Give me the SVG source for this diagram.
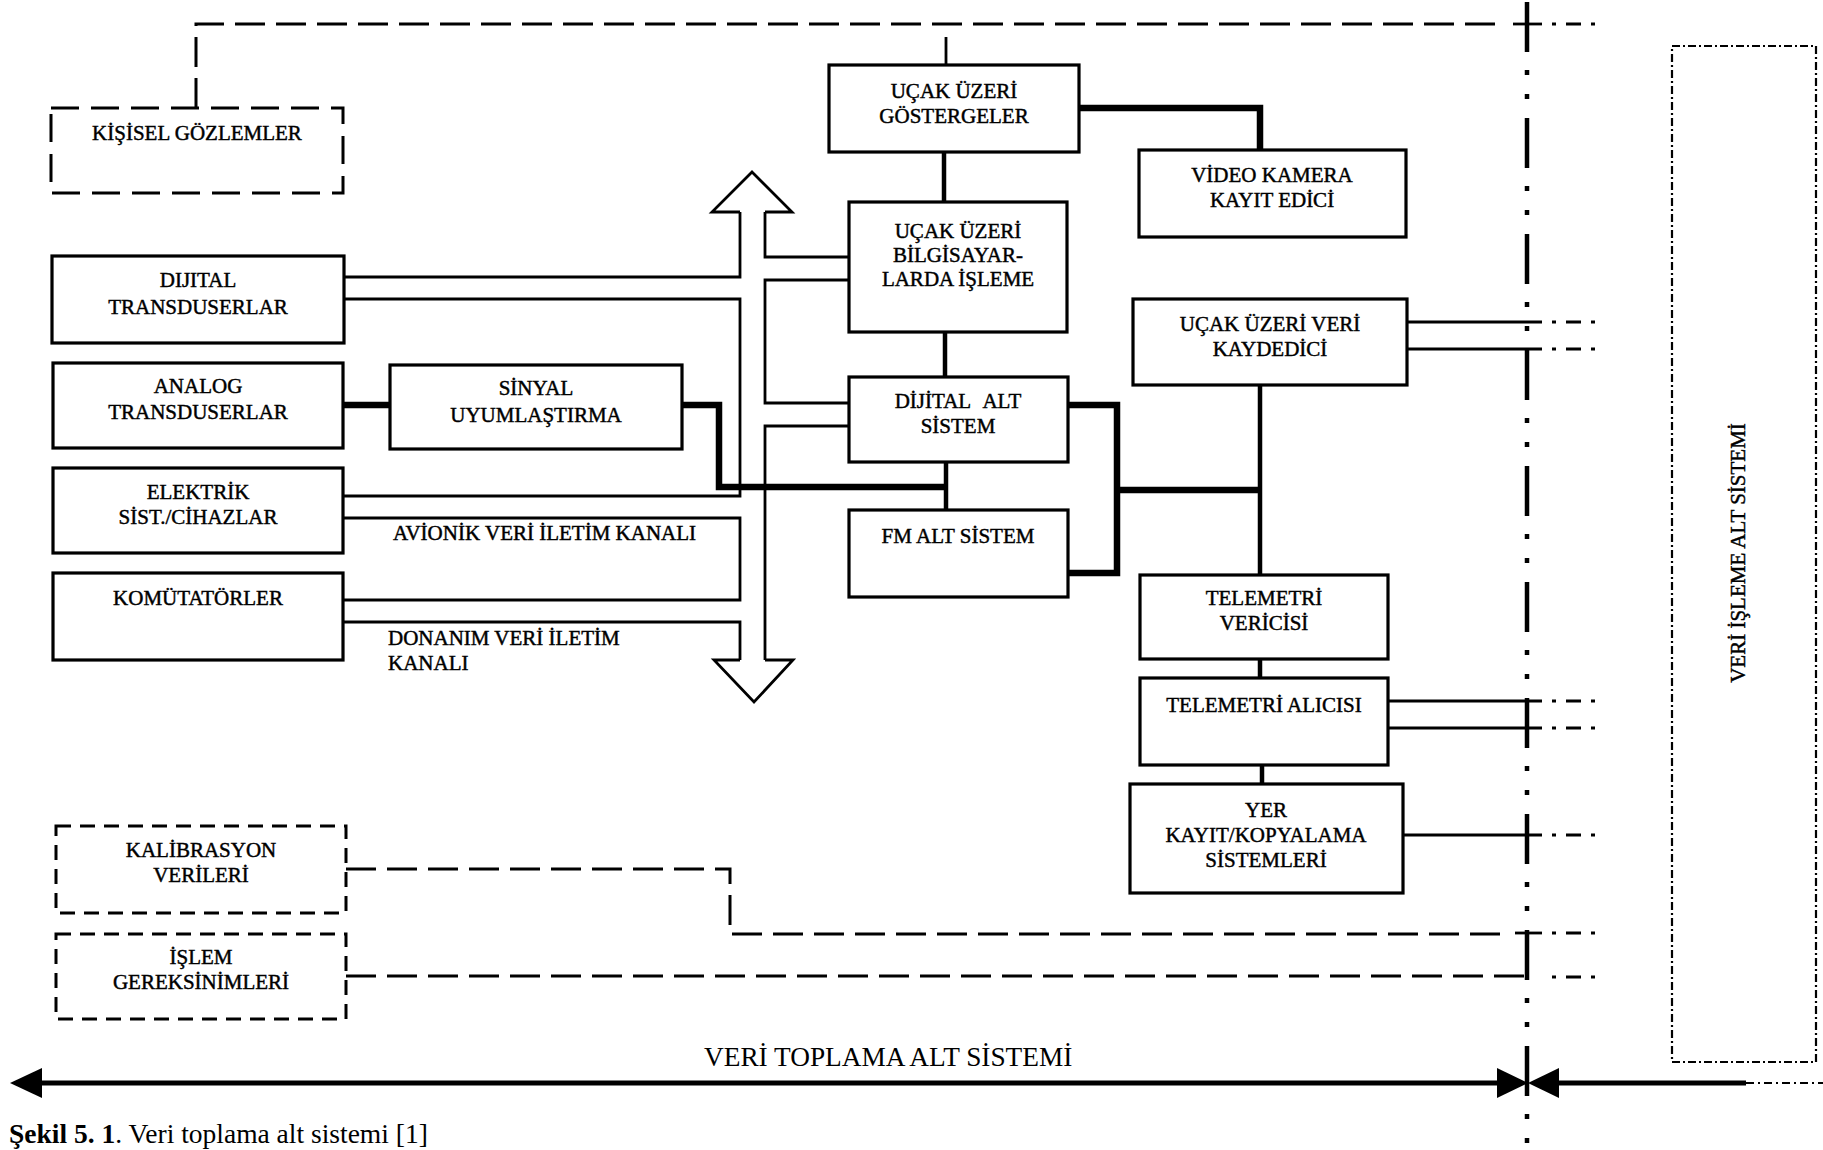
<svg xmlns="http://www.w3.org/2000/svg" width="1823" height="1150" viewBox="0 0 1823 1150">
  <defs>
    <style>
      .box { fill: #fff; stroke: #000; stroke-width: 3.2; }
      .dbox { fill: none; stroke: #000; stroke-width: 3; stroke-dasharray: 28 12; }
      .dbox2 { fill: none; stroke: #000; stroke-width: 3; stroke-dasharray: 15 9; }
      .ddbox { fill: none; stroke: #000; stroke-width: 2.2; stroke-dasharray: 8 3 2 3; }
      .lbl { font-family: "Liberation Serif", "Times New Roman", serif; font-size: 21px; text-anchor: middle; fill: #000; stroke: #000; stroke-width: 0.45; }
      .lbl-l { text-anchor: start; }
      .ln { fill: none; stroke: #000; stroke-width: 2.8; }
      .mid { fill: none; stroke: #000; stroke-width: 4.5; }
      .thick { fill: none; stroke: #000; stroke-width: 6.5; stroke-linejoin: miter; }
      .dln { fill: none; stroke: #000; stroke-width: 3; stroke-dasharray: 30 11; }
      .tail { fill: none; stroke: #000; stroke-width: 3; stroke-dasharray: 0 10 4 10 15 10 4 80; }
      .axis { fill: none; stroke: #000; stroke-width: 4.5; stroke-dasharray: 50 18 5 19 5 19; }
      .bus { fill: none; stroke: #000; stroke-width: 2.8; stroke-linejoin: miter; }
      .span { fill: none; stroke: #000; stroke-width: 5; }
      .head { fill: #000; stroke: none; }
      .big { font-family: "Liberation Serif", "Times New Roman", serif; fill: #000; }
    </style>
  </defs>
  <rect width="1823" height="1150" fill="#fff"/>

  <!-- connectors -->
  <g id="connectors">
    <!-- personal observations feed -->
    <path class="dln" d="M196,108 V24 H1505"/>
    <path class="ln" d="M1513,24 H1542"/>
    <path class="tail" d="M1542,24 H1610"/>
    <path class="ln" d="M946,37 V65"/>

    <!-- onboard chain -->
    <path class="thick" d="M1079,108 H1260 V150"/>
    <path class="mid" d="M944,152 V202"/>
    <path class="mid" d="M945,332 V377"/>
    <path class="mid" d="M946,462 V510"/>
    <path class="thick" d="M343,405 H390"/>
    <path class="thick" d="M682,405 H719 V487 H946"/>
    <path class="thick" d="M1068,405 H1117 V573 H1068"/>
    <path class="thick" d="M1117,490 H1260"/>
    <path class="mid" d="M1260,385 V575"/>
    <path class="mid" d="M1260,659 V678"/>
    <path class="mid" d="M1262,765 V784"/>

    <!-- outputs to the processing subsystem -->
    <path class="ln" d="M1407,322 H1542"/>
    <path class="tail" d="M1542,322 H1610"/>
    <path class="ln" d="M1407,349 H1542"/>
    <path class="tail" d="M1542,349 H1610"/>
    <path class="ln" d="M1388,701 H1542"/>
    <path class="tail" d="M1542,701 H1610"/>
    <path class="ln" d="M1388,728 H1542"/>
    <path class="tail" d="M1542,728 H1610"/>
    <path class="ln" d="M1403,835 H1542"/>
    <path class="tail" d="M1542,835 H1612"/>

    <!-- calibration and processing requirement feeds -->
    <path class="dln" d="M346,869 H730 V934 H1510"/>
    <path class="ln" d="M1515,933 H1542"/>
    <path class="tail" d="M1542,933 H1610"/>
    <path class="dln" d="M346,976 H1530"/>
    <path class="tail" d="M1542,977 H1612"/>

    <!-- data bus: hollow double arrow with channel lines -->
    <path class="bus" d="M740,212 H712 L752,172 L792,212 H765"/>
    <path class="bus" d="M740,660 H714 L754,702 L793,660 H765"/>
    <path class="bus" d="M740,212 V277 H344"/>
    <path class="bus" d="M344,299 H740 V496 H343"/>
    <path class="bus" d="M343,518 H740 V600 H343"/>
    <path class="bus" d="M343,622 H740 V660"/>
    <path class="bus" d="M765,212 V257 H849"/>
    <path class="bus" d="M849,280 H765 V403 H849"/>
    <path class="bus" d="M849,426 H765 V660"/>

    <!-- subsystem boundary -->
    <path class="axis" d="M1527,2 V1150"/>

    <!-- extent arrows -->
    <path class="span" d="M38,1083 H1499"/>
    <polygon class="head" points="10,1083 42,1068 42,1098"/>
    <polygon class="head" points="1528,1083 1497,1068 1497,1098"/>
    <polygon class="head" points="1528,1083 1559,1068 1559,1098"/>
    <path class="span" d="M1557,1083 H1746"/>
    <path fill="none" stroke="#000" stroke-width="2" stroke-dasharray="8 4 2 4" d="M1746,1083 H1823"/>
  </g>

  <!-- left-hand sources -->
  <g id="kisisel-gozlemler">
    <rect class="dbox" x="51" y="108" width="292" height="85"/>
    <text class="lbl" x="197" y="140">KİŞİSEL GÖZLEMLER</text>
  </g>
  <g id="dijital-transduserlar">
    <rect class="box" x="52" y="256" width="292" height="87"/>
    <text class="lbl" x="198" y="287">DIJITAL</text>
    <text class="lbl" x="198" y="314">TRANSDUSERLAR</text>
  </g>
  <g id="analog-transduserlar">
    <rect class="box" x="53" y="363" width="290" height="85"/>
    <text class="lbl" x="198" y="393">ANALOG</text>
    <text class="lbl" x="198" y="419">TRANSDUSERLAR</text>
  </g>
  <g id="sinyal-uyumlastirma">
    <rect class="box" x="390" y="365" width="292" height="84"/>
    <text class="lbl" x="536" y="395">SİNYAL</text>
    <text class="lbl" x="536" y="422">UYUMLAŞTIRMA</text>
  </g>
  <g id="elektrik">
    <rect class="box" x="53" y="468" width="290" height="85"/>
    <text class="lbl" x="198" y="499">ELEKTRİK</text>
    <text class="lbl" x="198" y="524">SİST./CİHAZLAR</text>
  </g>
  <g id="komutatorler">
    <rect class="box" x="53" y="573" width="290" height="87"/>
    <text class="lbl" x="198" y="605">KOMÜTATÖRLER</text>
  </g>
  <g id="kalibrasyon-verileri">
    <rect class="dbox2" x="56" y="826" width="290" height="87"/>
    <text class="lbl" x="201" y="857">KALİBRASYON</text>
    <text class="lbl" x="201" y="882">VERİLERİ</text>
  </g>
  <g id="islem-gereksinimleri">
    <rect class="dbox2" x="56" y="934" width="290" height="85"/>
    <text class="lbl" x="201" y="964">İŞLEM</text>
    <text class="lbl" x="201" y="989">GEREKSİNİMLERİ</text>
  </g>

  <!-- channel labels -->
  <g id="kanal-etiketleri">
    <text class="lbl lbl-l" x="393" y="540" font-size="21.5">AVİONİK VERİ İLETİM KANALI</text>
    <text class="lbl lbl-l" x="388" y="645">DONANIM VERİ İLETİM</text>
    <text class="lbl lbl-l" x="388" y="670">KANALI</text>
  </g>

  <!-- onboard units -->
  <g id="ucak-uzeri-gostergeler">
    <rect class="box" x="829" y="65" width="250" height="87"/>
    <text class="lbl" x="954" y="98">UÇAK ÜZERİ</text>
    <text class="lbl" x="954" y="123">GÖSTERGELER</text>
  </g>
  <g id="bilgisayar-isleme">
    <rect class="box" x="849" y="202" width="218" height="130"/>
    <text class="lbl" x="958" y="238">UÇAK ÜZERİ</text>
    <text class="lbl" x="958" y="262">BİLGİSAYAR-</text>
    <text class="lbl" x="958" y="286">LARDA İŞLEME</text>
  </g>
  <g id="dijital-alt-sistem">
    <rect class="box" x="849" y="377" width="219" height="85"/>
    <text class="lbl" x="958" y="408" word-spacing="8">DİJİTAL ALT</text>
    <text class="lbl" x="958" y="433">SİSTEM</text>
  </g>
  <g id="fm-alt-sistem">
    <rect class="box" x="849" y="510" width="219" height="87"/>
    <text class="lbl" x="958" y="543">FM ALT SİSTEM</text>
  </g>
  <g id="video-kamera">
    <rect class="box" x="1139" y="150" width="267" height="87"/>
    <text class="lbl" x="1272" y="182">VİDEO KAMERA</text>
    <text class="lbl" x="1272" y="207">KAYIT EDİCİ</text>
  </g>
  <g id="veri-kaydedici">
    <rect class="box" x="1133" y="299" width="274" height="86"/>
    <text class="lbl" x="1270" y="331">UÇAK ÜZERİ VERİ</text>
    <text class="lbl" x="1270" y="356">KAYDEDİCİ</text>
  </g>
  <g id="telemetri-vericisi">
    <rect class="box" x="1140" y="575" width="248" height="84"/>
    <text class="lbl" x="1264" y="605">TELEMETRİ</text>
    <text class="lbl" x="1264" y="630">VERİCİSİ</text>
  </g>
  <g id="telemetri-alicisi">
    <rect class="box" x="1140" y="678" width="248" height="87"/>
    <text class="lbl" x="1264" y="712">TELEMETRİ ALICISI</text>
  </g>
  <g id="yer-kayit">
    <rect class="box" x="1130" y="784" width="273" height="109"/>
    <text class="lbl" x="1266" y="817">YER</text>
    <text class="lbl" x="1266" y="842">KAYIT/KOPYALAMA</text>
    <text class="lbl" x="1266" y="867">SİSTEMLERİ</text>
  </g>

  <!-- processing subsystem -->
  <g id="veri-isleme">
    <rect class="ddbox" x="1672" y="46" width="144" height="1016"/>
    <text class="lbl" transform="translate(1745,553) rotate(-90)">VERİ İŞLEME ALT SİSTEMİ</text>
  </g>

  <!-- extent label and caption -->
  <text class="big" x="704" y="1066" font-size="27.3">VERİ TOPLAMA ALT SİSTEMİ</text>
  <text class="big" x="9" y="1143" font-size="27.5"><tspan font-weight="bold">Şekil 5. 1</tspan>. Veri toplama alt sistemi [1]</text>
</svg>
